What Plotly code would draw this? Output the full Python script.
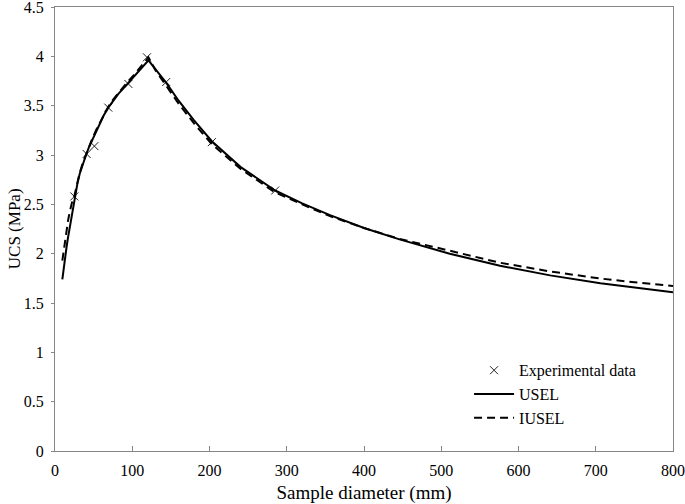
import plotly.graph_objects as go

# Experimental data
exp_d = [25, 41, 51, 69, 95, 119, 144, 203, 285]
exp_ucs = [2.58, 3.01, 3.09, 3.48, 3.72, 3.99, 3.74, 3.13, 2.64]

# Model curves
curve_d = [9.5, 12, 15, 17, 19, 22, 25.5, 29, 32, 36, 40.6, 44, 48, 53, 58, 63,
           69, 75, 82, 88, 95, 102, 108, 114, 121,
           130, 145, 160, 180, 203, 240, 285, 320, 356, 400, 446, 511, 576,
           641, 706, 750, 800]
usel = [1.74, 1.91, 2.07, 2.17, 2.26, 2.42, 2.58, 2.71, 2.81, 2.91, 3.01, 3.08,
        3.15, 3.24, 3.32, 3.40, 3.48, 3.55, 3.62, 3.67, 3.73, 3.79, 3.84, 3.90,
        3.96,
        3.87, 3.72, 3.55, 3.35, 3.14, 2.88, 2.64, 2.51, 2.39, 2.26, 2.145, 2.00,
        1.877, 1.78, 1.70, 1.655, 1.61]
iusel = [1.93, 2.08, 2.25, 2.34, 2.42, 2.52, 2.60, 2.72, 2.82, 2.92, 3.02, 3.09,
         3.16, 3.25, 3.33, 3.41, 3.49, 3.56, 3.63, 3.69, 3.75, 3.81, 3.87, 3.93,
         3.99,
         3.86, 3.69, 3.52, 3.32, 3.11, 2.86, 2.62, 2.50, 2.38, 2.26, 2.15, 2.03,
         1.908, 1.82, 1.748, 1.71, 1.672]

font = "Liberation Serif, Times New Roman, serif"
axis_col = "#868686"

fig = go.Figure()
fig.add_trace(go.Scatter(x=exp_d, y=exp_ucs, mode="markers", name="Experimental data",
                         marker=dict(symbol="x-thin", size=8, color="#222222",
                                     line=dict(width=1, color="#222222"))))
fig.add_trace(go.Scatter(x=curve_d, y=usel, mode="lines", name="USEL",
                         line=dict(color="black", width=2)))
fig.add_trace(go.Scatter(x=curve_d, y=iusel, mode="lines", name="IUSEL",
                         line=dict(color="black", width=2, dash="8px,5px")))

fig.update_layout(
    width=685, height=504,
    margin=dict(l=55, r=12, t=7, b=53),
    paper_bgcolor="white", plot_bgcolor="white",
    font=dict(family=font, size=16, color="black"),
    showlegend=True,
    legend=dict(x=0.67, y=0.22, xanchor="left", yanchor="top", itemwidth=40,
                bgcolor="rgba(0,0,0,0)", font=dict(size=16), tracegroupgap=0),
)
fig.update_xaxes(range=[0, 800], tickvals=list(range(0, 801, 100)),
                 showline=True, linecolor=axis_col, linewidth=1, mirror=True,
                 ticks="inside", ticklen=5, tickcolor=axis_col, showgrid=False,
                 zeroline=False, automargin=False, ticklabeloverflow="allow",
                 ticklabelstandoff=5,
                 title=dict(text="Sample diameter (mm)", standoff=8))
fig.update_yaxes(range=[0, 4.5], tickvals=[0, 0.5, 1, 1.5, 2, 2.5, 3, 3.5, 4, 4.5],
                 ticktext=["0", "0.5", "1", "1.5", "2", "2.5", "3", "3.5", "4", "4.5"],
                 showline=True, linecolor=axis_col, linewidth=1, mirror=True,
                 ticks="outside", ticklen=3, tickcolor=axis_col, showgrid=False,
                 zeroline=False, automargin=False, ticklabeloverflow="allow",
                 ticklabelstandoff=4)

# y title placed by hand (standoff is clamped inside the margin)
fig.add_annotation(text="UCS (MPa)", textangle=-90, showarrow=False,
                   xref="paper", yref="paper", x=-0.066, y=0.5,
                   xanchor="center", yanchor="middle",
                   font=dict(family=font, size=17))

# page body has a default 8px margin; remove it so the figure fills the window
fig.write_html("out.html", config={"displayModeBar": False},
               post_script="document.body.style.margin='0';")
